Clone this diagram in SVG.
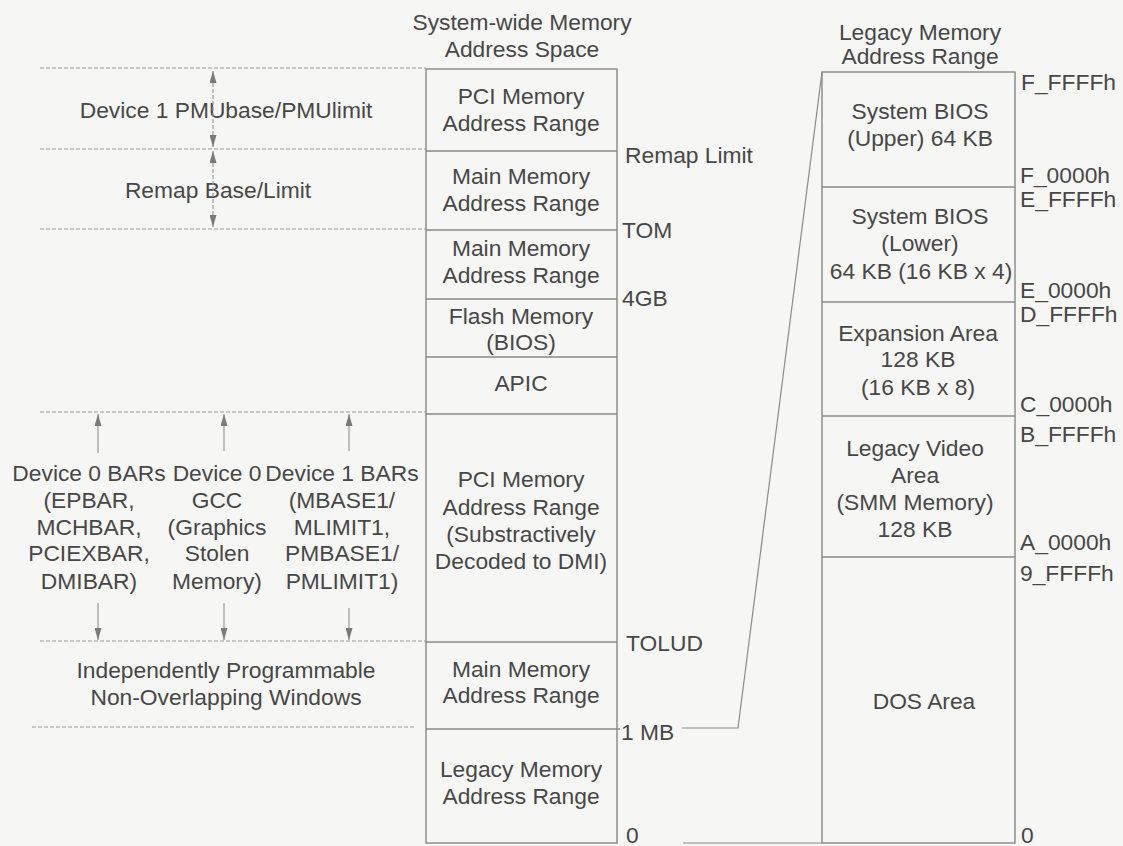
<svg xmlns="http://www.w3.org/2000/svg" width="1123" height="846" viewBox="0 0 1123 846">
<style>
text{font-family:"Liberation Sans",Arial,sans-serif;font-size:22.8px;fill:#474747}
.c{text-anchor:middle}
.box{fill:none;stroke:#888;stroke-width:1.4}
.div{stroke:#888;stroke-width:1.4}
.dash{stroke:#999;stroke-width:1.2;stroke-dasharray:4 2;fill:none}
.arr{stroke:#999;stroke-width:1.2;fill:none}
.zoom{stroke:#8a8a8a;stroke-width:1.2;fill:none}
</style>
<defs>
<marker id="ah" viewBox="0 0 12 7" refX="12" refY="3.5" markerWidth="12" markerHeight="7" markerUnits="userSpaceOnUse" orient="auto-start-reverse">
<path d="M0,0 L12,3.5 L0,7 z" fill="#7a7a7a"/>
</marker>
</defs>
<rect width="1123" height="846" fill="#f6f6f4"/>

<g id="title-system">
<text class="c" x="522" y="30">System-wide Memory</text>
<text class="c" x="522" y="57">Address Space</text>
</g>
<g id="title-legacy">
<text class="c" x="920" y="40">Legacy Memory</text>
<text class="c" x="920" y="64">Address Range</text>
</g>

<g id="system-map">
<rect class="box" x="426" y="69" width="191" height="774"/>
<line class="div" x1="426" y1="151" x2="617" y2="151"/>
<line class="div" x1="426" y1="230" x2="617" y2="230"/>
<line class="div" x1="426" y1="299" x2="617" y2="299"/>
<line class="div" x1="426" y1="357" x2="617" y2="357"/>
<line class="div" x1="426" y1="414" x2="617" y2="414"/>
<line class="div" x1="426" y1="642" x2="617" y2="642"/>
<line class="div" x1="426" y1="729" x2="620" y2="729"/>
</g>
<g id="sys-pci-high">
<text class="c" x="521" y="104">PCI Memory</text>
<text class="c" x="521" y="131">Address Range</text>
</g>
<g id="sys-main-remap">
<text class="c" x="521" y="184">Main Memory</text>
<text class="c" x="521" y="211">Address Range</text>
</g>
<g id="sys-main-high">
<text class="c" x="521" y="256">Main Memory</text>
<text class="c" x="521" y="283">Address Range</text>
</g>
<g id="sys-flash">
<text class="c" x="521" y="324">Flash Memory</text>
<text class="c" x="521" y="350">(BIOS)</text>
</g>
<g id="sys-apic">
<text class="c" x="521" y="391">APIC</text>
</g>
<g id="sys-pci-low">
<text class="c" x="521" y="487">PCI Memory</text>
<text class="c" x="521" y="515">Address Range</text>
<text class="c" x="521" y="542">(Substractively</text>
<text class="c" x="521" y="569">Decoded to DMI)</text>
</g>
<g id="sys-main-low">
<text class="c" x="521" y="677">Main Memory</text>
<text class="c" x="521" y="703">Address Range</text>
</g>
<g id="sys-legacy">
<text class="c" x="521" y="777">Legacy Memory</text>
<text class="c" x="521" y="804">Address Range</text>
</g>

<g id="sys-labels">
<text x="625" y="163">Remap Limit</text>
<text x="622" y="238">TOM</text>
<text x="622" y="306">4GB</text>
<text x="626" y="651">TOLUD</text>
<text x="621" y="740">1 MB</text>
<text x="626" y="843">0</text>
</g>

<g id="legacy-map">
<rect class="box" x="822" y="72" width="193" height="771"/>
<line class="div" x1="822" y1="187" x2="1015" y2="187"/>
<line class="div" x1="822" y1="302" x2="1015" y2="302"/>
<line class="div" x1="822" y1="416" x2="1015" y2="416"/>
<line class="div" x1="822" y1="557" x2="1015" y2="557"/>
</g>
<g id="leg-bios-upper">
<text class="c" x="920" y="119">System BIOS</text>
<text class="c" x="920" y="146">(Upper) 64 KB</text>
</g>
<g id="leg-bios-lower">
<text class="c" x="920" y="224">System BIOS</text>
<text class="c" x="920" y="251">(Lower)</text>
<text class="c" x="921" y="279">64 KB (16 KB x 4)</text>
</g>
<g id="leg-expansion">
<text class="c" x="918" y="341">Expansion Area</text>
<text class="c" x="918" y="367">128 KB</text>
<text class="c" x="918" y="395">(16 KB x 8)</text>
</g>
<g id="leg-video">
<text class="c" x="915" y="456">Legacy Video</text>
<text class="c" x="915" y="483">Area</text>
<text class="c" x="915" y="510">(SMM Memory)</text>
<text class="c" x="915" y="537">128 KB</text>
</g>
<g id="leg-dos">
<text class="c" x="924" y="709">DOS Area</text>
</g>
<g id="leg-labels">
<text x="1021" y="90">F_FFFFh</text>
<text x="1020" y="183">F_0000h</text>
<text x="1020" y="207">E_FFFFh</text>
<text x="1020" y="298">E_0000h</text>
<text x="1020" y="322">D_FFFFh</text>
<text x="1020" y="412">C_0000h</text>
<text x="1020" y="442">B_FFFFh</text>
<text x="1020" y="550">A_0000h</text>
<text x="1020" y="581">9_FFFFh</text>
<text x="1021" y="843">0</text>
</g>

<g id="range-pmu">
<text class="c" x="226" y="118">Device 1 PMUbase/PMUlimit</text>
</g>
<g id="range-remap">
<text class="c" x="218" y="198">Remap Base/Limit</text>
</g>
<g id="dev0-bars">
<text class="c" x="89" y="481">Device 0 BARs</text>
<text class="c" x="89" y="508">(EPBAR,</text>
<text class="c" x="89" y="535">MCHBAR,</text>
<text class="c" x="89" y="561">PCIEXBAR,</text>
<text class="c" x="89" y="589">DMIBAR)</text>
</g>
<g id="dev0-gcc">
<text class="c" x="217" y="481">Device 0</text>
<text class="c" x="217" y="508">GCC</text>
<text class="c" x="217" y="535">(Graphics</text>
<text class="c" x="217" y="561">Stolen</text>
<text class="c" x="217" y="589">Memory)</text>
</g>
<g id="dev1-bars">
<text class="c" x="342" y="481">Device 1 BARs</text>
<text class="c" x="342" y="508">(MBASE1/</text>
<text class="c" x="342" y="535">MLIMIT1,</text>
<text class="c" x="342" y="561">PMBASE1/</text>
<text class="c" x="342" y="589">PMLIMIT1)</text>
</g>
<g id="windows">
<text class="c" x="226" y="678">Independently Programmable</text>
<text class="c" x="226" y="705">Non-Overlapping Windows</text>
</g>

<g id="connectors">
<line class="dash" x1="40" y1="68" x2="426" y2="68"/>
<line class="dash" x1="40" y1="149" x2="426" y2="149"/>
<line class="dash" x1="40" y1="229" x2="426" y2="229"/>
<line class="dash" x1="40" y1="412" x2="426" y2="412"/>
<line class="dash" x1="40" y1="641" x2="426" y2="641"/>
<line class="dash" x1="32" y1="727" x2="415" y2="727"/>
<line class="dash" x1="213" y1="71" x2="213" y2="147" marker-start="url(#ah)" marker-end="url(#ah)"/>
<line class="dash" x1="213" y1="151" x2="213" y2="227" marker-start="url(#ah)" marker-end="url(#ah)"/>
<line class="arr" x1="98" y1="453" x2="98" y2="414" marker-end="url(#ah)"/>
<line class="arr" x1="224" y1="451" x2="224" y2="414" marker-end="url(#ah)"/>
<line class="arr" x1="349" y1="451" x2="349" y2="414" marker-end="url(#ah)"/>
<line class="arr" x1="98" y1="603" x2="98" y2="640" marker-end="url(#ah)"/>
<line class="arr" x1="224" y1="603" x2="224" y2="640" marker-end="url(#ah)"/>
<line class="arr" x1="349" y1="608" x2="349" y2="640" marker-end="url(#ah)"/>
<polyline class="zoom" points="682,728 738,728 822,72"/>
<line class="zoom" x1="683" y1="843" x2="822" y2="843"/>
</g>
</svg>
